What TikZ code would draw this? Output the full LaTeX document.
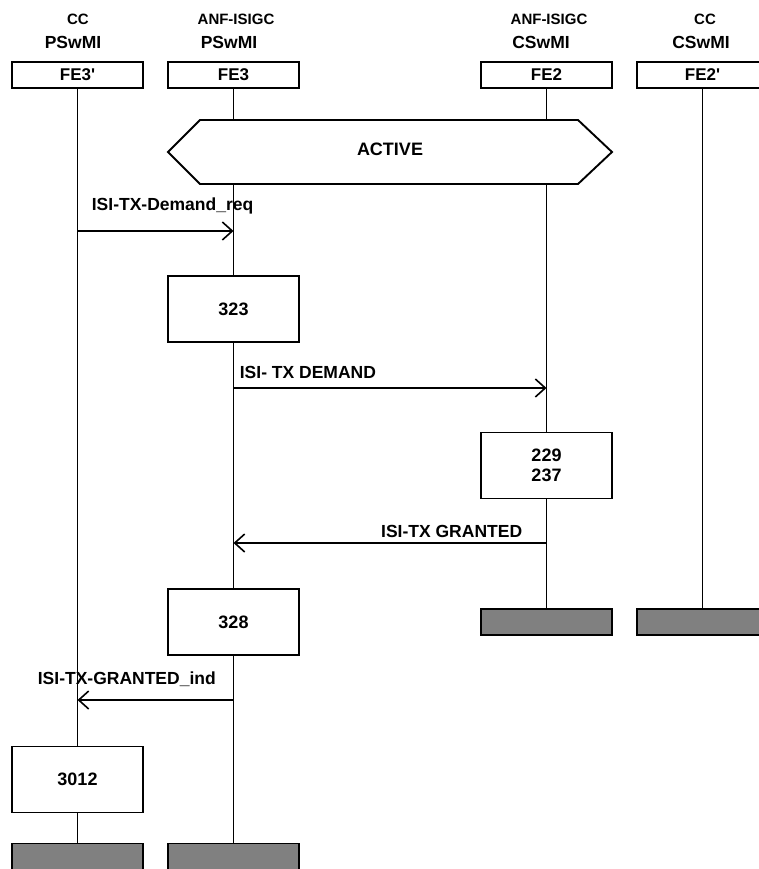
\documentclass[tikz,border=0pt]{standalone}
\usepackage{fontspec}
\setmainfont{Liberation Sans}
\usetikzlibrary{arrows.meta}
\begin{document}
\begin{tikzpicture}[x=1pt,y=-1pt,
  line width=1.7pt,
  hdsmall/.style={font=\bfseries\fontsize{15}{17}\selectfont, inner sep=0, anchor=base},
  hdbig/.style={font=\bfseries\fontsize{17.5}{20}\selectfont, inner sep=0, anchor=base},
  febox/.style={draw, line width=1.9pt, minimum width=131pt, minimum height=26pt, inner sep=0,
                font=\bfseries\fontsize{17}{19}\selectfont},
  procbox/.style={draw, line width=1.9pt, fill=white, minimum width=131pt, minimum height=66pt, inner sep=0,
                font=\bfseries\fontsize{18}{19.5}\selectfont, align=center},
  endbar/.style={draw, line width=1.9pt, fill=gray, minimum width=131pt, minimum height=26pt, inner sep=0},
  msglbl/.style={font=\bfseries\fontsize{17.5}{20}\selectfont, inner sep=0},
  msg/.style={-{Straight Barb[length=10pt,width=18pt,line width=1.6pt]}},
  life/.style={line width=1.7pt}
]
\useasboundingbox (0,0) rectangle (759,869);

% headers
\node[hdsmall] (h1a) at (78,25) {CC};
\node[hdbig]   (h1b) at (73,48.3) {PSwMI};
\node[hdsmall] (h2a) at (236,25) {ANF-ISIGC};
\node[hdbig]   (h2b) at (229,48.3) {PSwMI};
\node[hdsmall] (h3a) at (549,25) {ANF-ISIGC};
\node[hdbig]   (h3b) at (541,48.3) {CSwMI};
\node[hdsmall] (h4a) at (705,25) {CC};
\node[hdbig]   (h4b) at (701,48.3) {CSwMI};

% entity boxes
\node[febox] (fe3p) at (77.5,75) {FE3\textquotesingle};
\node[febox] (fe3)  at (233.5,75) {FE3};
\node[febox] (fe2)  at (546.5,75) {FE2};
\node[febox] (fe2p) at (702.5,75) {FE2\textquotesingle};

% ACTIVE hexagon
\draw[line width=1.9pt] (168,152) -- (200,120) -- (578,120) -- (612,152) -- (578,184) -- (200,184) -- cycle;
\node[font=\bfseries\fontsize{18}{20}\selectfont, inner sep=0, anchor=base] (active) at (390,156) {ACTIVE};
\coordinate (hexT3) at (233.5,120);
\coordinate (hexB3) at (233.5,184);
\coordinate (hexT2) at (546.5,120);
\coordinate (hexB2) at (546.5,184);

% processing boxes
\node[procbox] (b323)  at (233.5,309) {323};
\node[procbox] (b229)  at (546.5,465.5) {229\\237};
\node[procbox] (b328)  at (233.5,622) {328};
\node[procbox] (b3012) at (77.5,779.5) {3012};

% end bars
\node[endbar] (e2)  at (546.5,622) {};
\node[endbar] (e2p) at (702.5,622) {};
\node[endbar] (e3p) at (77.5,856.5) {};
\node[endbar] (e3)  at (233.5,856.5) {};

% lifelines
\draw[life] (fe3p.south) -- (b3012.north);
\draw[life] (b3012.south) -- (e3p.north);
\draw[life] (fe3.south) -- (hexT3);
\draw[life] (hexB3) -- (b323.north);
\draw[life] (b323.south) -- (b328.north);
\draw[life] (b328.south) -- (e3.north);
\draw[life] (fe2.south) -- (hexT2);
\draw[life] (hexB2) -- (b229.north);
\draw[life] (b229.south) -- (e2.north);
\draw[life] (fe2p.south) -- (e2p.north);

% messages
\coordinate (m1s) at (77.5,231);  \coordinate (m1e) at (233.5,231);
\coordinate (m2s) at (233.5,388); \coordinate (m2e) at (546.5,388);
\coordinate (m3s) at (546.5,543); \coordinate (m3e) at (233.5,543);
\coordinate (m4s) at (233.5,700); \coordinate (m4e) at (77.5,700);
\draw[msg] (m1s) -- (m1e);
\draw[msg] (m2s) -- (m2e);
\draw[msg] (m3s) -- (m3e);
\draw[msg] (m4s) -- (m4e);

\node[msglbl, anchor=base west] (l1) at (91,210) {ISI-TX-Demand\_req};
\node[msglbl, anchor=base west] (l2) at (239,378.3) {ISI- TX DEMAND};
\node[msglbl, anchor=base east] (l3) at (523,537.3) {ISI-TX GRANTED};
\node[msglbl, anchor=base west] (l4) at (37,684.3) {ISI-TX-GRANTED\_ind};
\end{tikzpicture}
\end{document}
